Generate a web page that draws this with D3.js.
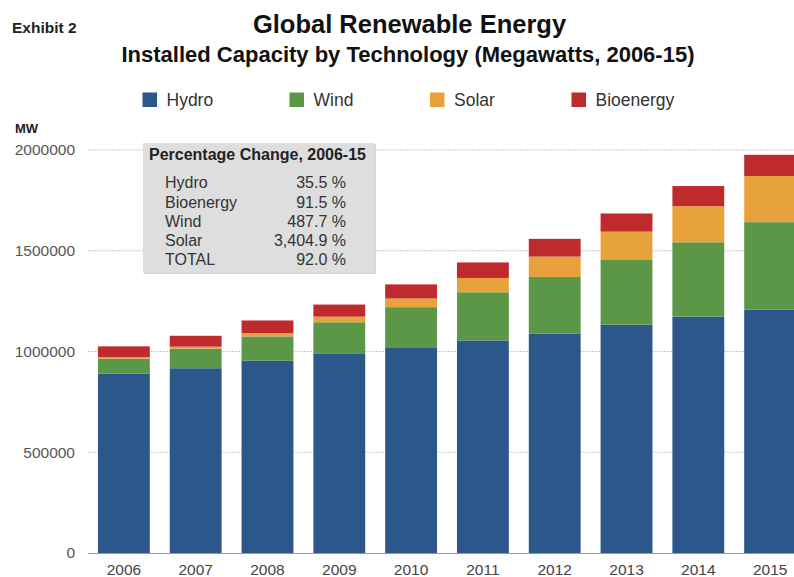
<!DOCTYPE html>
<html>
<head>
<meta charset="utf-8">
<script src="https://cdn.jsdelivr.net/npm/d3@7"></script>
<style>
  html, body { margin: 0; padding: 0; background: #fff; }
  svg { display: block; font-family: "Liberation Sans", Arial, sans-serif; }
</style>
</head>
<body>
<svg id="chart" width="794" height="577"></svg>
<script>
// ---- Data (MW) ----
const years = ["2006","2007","2008","2009","2010","2011","2012","2013","2014","2015"];
const hydro     = [891000, 917000, 955000, 988000, 1021000, 1055000, 1088000, 1133000, 1173000, 1207000];
const wind      = [ 74000,  97000, 120000, 157000,  199000,  239000,  282000,  321000,  369000,  435000];
const solar     = [  6500,  10000,  16000,  28000,   43000,   71000,  101000,  141000,  179000,  229000];
const bioenergy = [ 54000,  54000,  63000,  60000,   70000,   77000,   88000,   90000,  100000,  105000];
const seriesNames = ["Hydro", "Wind", "Solar", "Bioenergy"];
const seriesColors = ["#2c578b", "#5b9747", "#e8a23b", "#bf2a2d"];
const yTicks = [0, 500000, 1000000, 1500000, 2000000];
const boxLabels = ["Hydro", "Bioenergy", "Wind", "Solar", "TOTAL"];
const boxValues = ["35.5 %", "91.5 %", "487.7 %", "3,404.9 %", "92.0 %"];

const svg = d3.select("#chart");
const W = 794, H = 577;
const FONT = "'Liberation Sans', Arial, sans-serif";

const rows = years.map((y, i) => ({
  year: y, Hydro: hydro[i], Wind: wind[i], Solar: solar[i], Bioenergy: bioenergy[i]
}));
const stack = d3.stack().keys(seriesNames)(rows);

const x = d3.scaleBand().domain(years).range([78, 816]).paddingInner(20/72).paddingOuter(20/72);
const y = d3.scaleLinear().domain([0, 2000000]).range([553, 150]);
const color = d3.scaleOrdinal().domain(seriesNames).range(seriesColors);

// Titles
svg.append("text").attr("x", 12).attr("y", 33).attr("font-size", 15.5).attr("font-weight", "bold")
  .attr("fill", "#222").text("Exhibit 2");
svg.append("text").attr("x", 409.5).attr("y", 33).attr("text-anchor", "middle")
  .attr("font-size", 25.5).attr("font-weight", "bold").attr("fill", "#111").text("Global Renewable Energy");
svg.append("text").attr("x", 408).attr("y", 62).attr("text-anchor", "middle")
  .attr("font-size", 22).attr("font-weight", "bold").attr("fill", "#111")
  .text("Installed Capacity by Technology (Megawatts, 2006-15)");

// Legend
const legendX = [142.5, 289.5, 430, 571.5];
const lg = svg.append("g");
seriesNames.forEach((s, i) => {
  lg.append("rect").attr("x", legendX[i]).attr("y", 92.5).attr("width", 14.5).attr("height", 14.5)
    .attr("fill", color(s));
  lg.append("text").attr("x", legendX[i] + 24).attr("y", 105.5).attr("font-size", 17.5)
    .attr("fill", "#333").text(s);
});

// MW label
svg.append("text").attr("x", 15).attr("y", 133).attr("font-size", 13).attr("font-weight", "bold")
  .attr("fill", "#222").text("MW");

// Gridlines
svg.append("g").selectAll("line").data(yTicks.filter(d => d > 0)).join("line")
  .attr("x1", 88).attr("x2", W).attr("y1", d => y(d)).attr("y2", d => y(d))
  .attr("stroke", "#c8c8c8").attr("stroke-width", 1).attr("stroke-dasharray", "2,1");

// Y axis
const yAxis = svg.append("g").attr("transform", "translate(88,0)")
  .call(d3.axisLeft(y).tickValues(yTicks).tickFormat(d3.format("d")).tickSize(0).tickPadding(13));
yAxis.select(".domain").remove();
yAxis.selectAll("text").attr("font-size", 15.5).attr("fill", "#555").attr("font-family", FONT);

// Bars
svg.append("g").selectAll("g").data(stack).join("g")
  .attr("fill", d => color(d.key))
  .selectAll("rect").data(d => d).join("rect")
  .attr("x", d => x(d.data.year))
  .attr("width", x.bandwidth())
  .attr("y", d => y(d[1]))
  .attr("height", d => y(d[0]) - y(d[1]));

// X axis
const xAxis = svg.append("g").attr("transform", "translate(0,553)")
  .call(d3.axisBottom(x).tickSize(0));
xAxis.select(".domain").remove();
xAxis.selectAll("text").attr("font-size", 15.5).attr("fill", "#444").attr("font-family", FONT)
  .attr("dy", null).attr("y", 21.5);
svg.append("line").attr("x1", 88).attr("x2", W).attr("y1", 553.5).attr("y2", 553.5)
  .attr("stroke", "#999").attr("stroke-width", 1.2);

// Info box
const box = svg.append("g");
box.append("rect").attr("x", 144).attr("y", 144).attr("width", 232).attr("height", 130)
  .attr("fill", "#b0b0b0").attr("opacity", 0.5);
box.append("rect").attr("x", 143).attr("y", 143).attr("width", 231.5).attr("height", 130)
  .attr("fill", "#dedede");
box.append("text").attr("x", 149).attr("y", 160).attr("font-size", 16).attr("font-weight", "bold")
  .attr("fill", "#222").text("Percentage Change, 2006-15");
boxLabels.forEach((l, i) => {
  box.append("text").attr("x", 165).attr("y", 188.3 + i * 19.25).attr("font-size", 16)
    .attr("fill", "#333").text(l);
  box.append("text").attr("x", 346).attr("y", 188.3 + i * 19.25).attr("font-size", 16)
    .attr("text-anchor", "end").attr("fill", "#333").text(boxValues[i]);
});
</script>
</body>
</html>
